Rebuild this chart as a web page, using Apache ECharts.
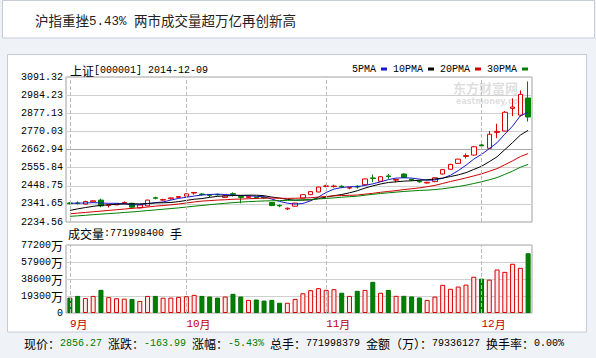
<!DOCTYPE html>
<html>
<head>
<meta charset="utf-8">
<script src="https://cdn.jsdelivr.net/npm/echarts@6.0.0/dist/echarts.min.js"></script>
<style>
html,body{margin:0;padding:0;background:#eff2f6;}
#chart{width:596px;height:358px;}
</style>
</head>
<body>
<div id="chart"></div>
<script>
// ---------------- data ----------------
const dates = [
 '2014-09-10','2014-09-11','2014-09-12','2014-09-15','2014-09-16','2014-09-17','2014-09-18','2014-09-19','2014-09-22','2014-09-23',
 '2014-09-24','2014-09-25','2014-09-26','2014-09-29','2014-09-30','2014-10-08','2014-10-09','2014-10-10','2014-10-13','2014-10-14',
 '2014-10-15','2014-10-16','2014-10-17','2014-10-20','2014-10-21','2014-10-22','2014-10-23','2014-10-24','2014-10-27','2014-10-28',
 '2014-10-29','2014-10-30','2014-10-31','2014-11-03','2014-11-04','2014-11-05','2014-11-06','2014-11-07','2014-11-10','2014-11-11',
 '2014-11-12','2014-11-13','2014-11-14','2014-11-17','2014-11-18','2014-11-19','2014-11-20','2014-11-21','2014-11-24','2014-11-25',
 '2014-11-26','2014-11-27','2014-11-28','2014-12-01','2014-12-02','2014-12-03','2014-12-04','2014-12-05','2014-12-08','2014-12-09'
];
const opens = [
 2347,2347,2340,2354,2364,2333,2336,2347,2345,2318,
 2330,2378,2364,2372,2380,2387,2406,2400,2395,2398,
 2380,2402,2385,2380,2380,2380,2350,2333,2312,2328,
 2376,2396,2412,2445,2444,2446,2435,2446,2455,2495,
 2475,2507,2482,2518,2487,2476,2465,2473,2518,2546,
 2581,2622,2630,2690,2670,2764,2772,2906,2866,2967
];
const closes = [
 2343,2344,2356,2360,2330,2336,2341,2350,2322,2335,
 2364,2375,2367,2377,2385,2401,2409,2397,2392,2395,
 2389,2398,2380,2386,2377,2376,2332,2330,2316,2346,
 2396,2414,2441,2448,2447,2442,2438,2441,2489,2492,
 2502,2503,2486,2497,2483,2472,2469,2496,2544,2575,
 2606,2627,2679,2684,2753,2770,2883,2914,2989,2855
];
const lows = [
 2338,2338,2337,2352,2322,2320,2334,2343,2318,2315,
 2328,2368,2360,2368,2377,2384,2396,2390,2382,2390,
 2376,2385,2345,2376,2372,2372,2328,2322,2305,2325,
 2374,2394,2410,2440,2438,2435,2428,2432,2453,2470,
 2472,2490,2470,2494,2478,2466,2462,2470,2515,2544,
 2578,2610,2627,2665,2668,2730,2770,2860,2858,2828
];
const highs = [
 2352,2356,2360,2362,2372,2337,2343,2356,2348,2337,
 2366,2384,2372,2380,2388,2404,2412,2406,2400,2402,
 2392,2410,2392,2390,2382,2383,2352,2338,2320,2348,
 2398,2416,2443,2455,2455,2452,2440,2452,2492,2515,
 2505,2518,2488,2522,2490,2482,2472,2498,2546,2578,
 2608,2640,2682,2715,2772,2815,2890,2965,3012,3065
];
// volume in 万手
const volumes = [
 17500,19400,17000,19400,26300,18000,16800,16300,16000,13700,
 19400,19400,17400,17500,18300,19000,20600,19400,18700,17500,
 18700,21800,18700,14900,15300,14100,14900,11650,11650,16000,
 22400,25900,28200,26300,27000,23000,19400,25200,26200,35400,
 23000,26200,19500,19500,18800,17600,14900,18600,32000,27500,
 30000,32200,41200,39000,37900,49400,46700,55900,51300,67800
];
const ma5 = [
 2345,2346,2347,2349,2347,2345,2345,2343,2336,2337,
 2342,2349,2353,2364,2374,2381,2388,2394,2397,2399,
 2397,2394,2391,2390,2386,2384,2370,2356,2346,2340,
 2344,2360,2382,2409,2429,2438,2443,2443,2451,2460,
 2472,2485,2494,2496,2494,2488,2481,2483,2493,2511,
 2538,2570,2606,2634,2668,2703,2754,2801,2862,2882
];
const ma10 = [
 2303,2312,2320,2327,2333,2336,2339,2341,2342,2342,
 2344,2347,2348,2350,2355,2362,2369,2373,2380,2386,
 2389,2391,2392,2393,2393,2390,2382,2376,2368,2363,
 2364,2365,2373,2382,2390,2397,2407,2419,2435,2448,
 2459,2468,2472,2476,2478,2481,2484,2489,2494,2503,
 2513,2526,2545,2564,2591,2620,2662,2704,2748,2776
];
const ma20 = [
 2283,2287,2291,2295,2299,2303,2307,2311,2315,2319,
 2323,2328,2332,2336,2341,2347,2353,2358,2361,2364,
 2366,2369,2370,2372,2374,2376,2376,2375,2374,2375,
 2376,2378,2382,2385,2389,2391,2392,2394,2399,2404,
 2410,2415,2420,2426,2431,2436,2443,2451,2462,2474,
 2484,2495,2507,2519,2534,2550,2573,2596,2621,2639
];
const ma30 = [
 2268,2271,2274,2278,2281,2284,2287,2291,2294,2298,
 2302,2306,2310,2314,2318,2323,2328,2332,2337,2341,
 2345,2349,2352,2355,2357,2359,2360,2361,2362,2364,
 2365,2368,2371,2374,2377,2381,2384,2387,2393,2398,
 2403,2407,2411,2415,2418,2421,2423,2426,2431,2437,
 2444,2452,2462,2472,2484,2497,2516,2535,2558,2575
];
const maNames = ['5PMA','10PMA','20PMA','30PMA'];
const priceTicks = ['2234.56','2341.65','2448.75','2555.84','2662.94','2770.03','2877.13','2984.23','3091.32'];
const volTicks = ['0','19300万','38600万','57900万','77200万'];
const titleText = '沪指重挫5.43% 两市成交量超万亿再创新高';
const headerText = '上证[000001] 2014-12-09';
const volHeaderText = '成交量:771998400 手';
const infoParts = [
 ['现价：',0],['2856.27',1],[' 涨跌：',0],['-163.99',1],[' 涨幅：',0],['-5.43%',1],
 [' 总手：771998379 金额（万）：79336127 换手率：0.00%',0]
];

// ---------------- helpers ----------------
const MONO = "'Liberation Mono','DejaVu Sans Mono',monospace";
const CJK = "'Noto Sans CJK SC','Noto Sans',sans-serif";
function toRich(str, key) {
  let out = '';
  const re = /[\x20-\x7e]+|[^\x20-\x7e]+/g;
  let m;
  while ((m = re.exec(str))) {
    const ascii = /^[\x20-\x7e]/.test(m[0]);
    out += '{' + (ascii ? 'a' : 'c') + key + '|' + m[0] + '}';
  }
  return out;
}
const gRich = {
  a0:{fill:'#000',fontSize:10,fontFamily:MONO,lineHeight:16,verticalAlign:'middle'},
  c0:{fill:'#000',fontSize:12,fontFamily:CJK,lineHeight:16,verticalAlign:'middle'},
  a1:{fill:'#008000',fontSize:10,fontFamily:MONO,lineHeight:16,verticalAlign:'middle'},
  c1:{fill:'#008000',fontSize:12,fontFamily:CJK,lineHeight:16,verticalAlign:'middle'},
  a2:{fill:'#222',fontSize:12.5,fontFamily:MONO,lineHeight:18,verticalAlign:'middle',padding:[4,0,0,0]},
  c2:{fill:'#222',fontSize:13.5,fontFamily:CJK,lineHeight:18,verticalAlign:'middle'}
};
const axRich = {
  a:{color:'#000',fontSize:10,fontFamily:MONO,lineHeight:14,verticalAlign:'middle'},
  c:{color:'#000',fontSize:12,fontFamily:CJK,lineHeight:14,verticalAlign:'middle'},
  ma:{color:'#c00000',fontSize:11,fontFamily:MONO,lineHeight:14,verticalAlign:'middle'},
  mc:{color:'#c00000',fontSize:11,fontFamily:CJK,lineHeight:14,verticalAlign:'middle'}
};
const monthStarts = [];
dates.forEach((d,i)=>{ if (i===0 || d.slice(5,7)!==dates[i-1].slice(5,7)) monthStarts.push(i); });
const monthSet = new Set(monthStarts);

const candleData = dates.map((d,i)=>[opens[i],closes[i],lows[i],highs[i]]);
const upVol = {color:'#fdeaea',borderColor:'#d40000',borderWidth:1};
const downVol = {color:'#008000',borderColor:'#007000',borderWidth:1};
const volData = volumes.map((v,i)=>({value:v,itemStyle: closes[i] >= opens[i] ? upVol : downVol}));
const monthLines = {
  silent:true, symbol:['none','none'], label:{show:false},
  lineStyle:{type:'dashed',color:'#bdbdbd',width:1},
  emphasis:{disabled:true},
  data: monthStarts.map(i=>({xAxis: dates[i]}))
};

const maColors = ['#1818c8','#000000','#d00000','#008000'];
const maData = [ma5, ma10, ma20, ma30];

const chart = echarts.init(document.getElementById('chart'), null, {renderer:'svg', width:596, height:358});
const option = {
  animation:false,
  backgroundColor:'#eff2f6',
  graphic:[
    {type:'rect', z:-10, shape:{x:2.5,y:0.5,width:592,height:37.5}, style:{fill:'#fff',stroke:'#c6ccd6',lineWidth:1}},
    {type:'rect', z:-10, shape:{x:7.5,y:54.5,width:579,height:277.5}, style:{fill:'#fff',stroke:'#c6ccd6',lineWidth:1}},
    {type:'text', x:35, y:20, style:{text:toRich(titleText,'2'), rich:gRich, verticalAlign:'middle'}},
    {type:'text', x:70, y:70, style:{text:toRich(headerText,'0'), rich:gRich, verticalAlign:'middle'}},
    {type:'text', x:68, y:233, style:{text:toRich(volHeaderText,'0'), rich:gRich, verticalAlign:'middle'}},
    {type:'text', x:24, y:343, style:{text:infoParts.map(p=>toRich(p[0],String(p[1]))).join(''), rich:gRich, verticalAlign:'middle'}},
    {type:'text', x:453, y:87, z:-5, style:{text:'东方财富网', fill:'rgba(150,150,150,0.33)', fontSize:13, fontWeight:'bold', fontFamily:CJK, verticalAlign:'middle'}},
    {type:'text', x:456, y:101, z:-5, style:{text:'eastmoney.com', fill:'rgba(150,150,150,0.33)', fontSize:8, fontWeight:'bold', fontFamily:"'DejaVu Sans',sans-serif", verticalAlign:'middle'}}
  ],
  legend:{
    data:maNames, right:68, top:64, align:'right', icon:'rect', itemWidth:6, itemHeight:3, itemGap:6,
    selectedMode:false, padding:0,
    textStyle:{fontFamily:MONO, fontSize:10, color:'#000'}
  },
  grid:[
    {left:66, right:64, top:77, height:145, show:true, borderColor:'#a0a0a0', borderWidth:1, backgroundColor:'transparent'},
    {left:66, right:64, top:245, height:68, show:true, borderColor:'#a0a0a0', borderWidth:1, backgroundColor:'transparent'}
  ],
  xAxis:[
    {type:'category', gridIndex:0, data:dates, boundaryGap:true,
     axisLine:{show:false}, axisTick:{show:false}, axisLabel:{show:false}, splitLine:{show:false}},
    {type:'category', gridIndex:1, data:dates, boundaryGap:true,
     axisLine:{show:false}, axisTick:{show:false}, splitLine:{show:false},
     axisLabel:{show:true, interval:(idx)=>monthSet.has(idx), align:'left', margin:4, hideOverlap:false,
       formatter:(v)=>'{ma|' + parseInt(v.slice(5,7),10) + '}{mc|月}', rich:axRich}}
  ],
  yAxis:[
    {type:'value', gridIndex:0, min:2234.56, max:3091.32, interval:107.095, scale:true,
     axisLine:{show:false}, axisTick:{show:false},
     axisLabel:{margin:3, formatter:(v,i)=>'{a|' + priceTicks[i] + '}', rich:axRich},
     splitLine:{show:true, lineStyle:{color:['#cfcfcf','#cfcfcf','#cfcfcf','#cfcfcf','#a8a8a8','#cfcfcf','#cfcfcf','#cfcfcf','#cfcfcf'], width:1}}},
    {type:'value', gridIndex:1, min:0, max:77200, interval:19300,
     axisLine:{show:false}, axisTick:{show:false},
     axisLabel:{margin:3, formatter:(v,i)=>{ const t = volTicks[i]; return t.endsWith('万') ? '{a|' + t.slice(0,-1) + '}{c|万}' : '{a|' + t + '}'; }, rich:axRich},
     splitLine:{show:true, lineStyle:{color:'#cfcfcf', width:1}}}
  ],
  series:[
    {type:'candlestick', name:'上证', xAxisIndex:0, yAxisIndex:0, data:candleData, barWidth:5,
     itemStyle:{color:'#ffffff', color0:'#008000', borderColor:'#dd0000', borderColor0:'#008000', borderWidth:1},
     markLine: monthLines},
    ...maNames.map((n,k)=>({type:'line', name:n, xAxisIndex:0, yAxisIndex:0, data:maData[k],
      showSymbol:false, symbol:'none', smooth:false, color:maColors[k], lineStyle:{width:1, color:maColors[k]}, emphasis:{disabled:true}})),
    {type:'bar', name:'成交量', xAxisIndex:1, yAxisIndex:1, data:volData, barWidth:5, markLine: monthLines}
  ]
};
chart.setOption(option);
</script>
</body>
</html>
